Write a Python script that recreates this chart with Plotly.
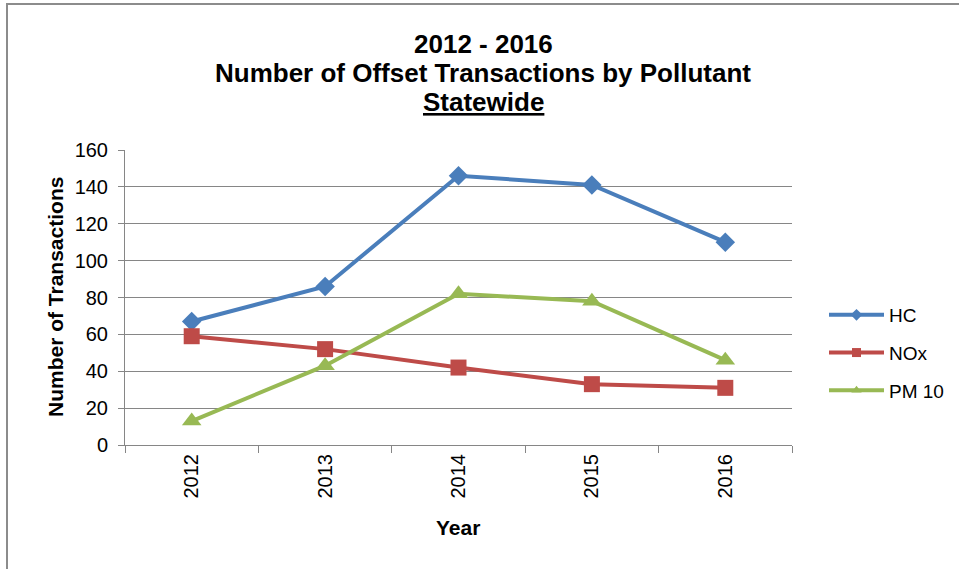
import plotly.graph_objects as go

years = ["2012", "2013", "2014", "2015", "2016"]
hc = [67, 86, 146, 141, 110]
nox = [59, 52, 42, 33, 31]
pm10 = [13, 43, 82, 78, 46]

title_lines = ["2012 - 2016", "Number of Offset Transactions by Pollutant", "<u>Statewide</u>"]

series = [
    ("HC", hc, "#4A7EBB", "diamond", 15, 9),
    ("NOx", nox, "#BE4B48", "square", 16, 9),
    ("PM 10", pm10, "#98B954", "triangle-up", 17, 9),
]

W, H = 959, 569
L, R, T, B = 125, 792, 150, 445


def px_x(px):
    return (px - L) / (R - L)


def px_y(py):
    return (B - py) / (B - T)


fig = go.Figure()
for i, (name, vals, color, sym, sz, lsz) in enumerate(series):
    fig.add_trace(go.Scatter(
        x=years, y=vals, name=name, mode="lines+markers",
        line=dict(color=color, width=4),
        marker=dict(symbol=sym, size=sz, color=color),
        showlegend=False,
    ))
    # legend entry with the small marker used in the reference legend
    fig.add_trace(go.Scatter(
        x=[None], y=[None], name=name, mode="lines+markers",
        line=dict(color=color, width=4),
        marker=dict(symbol=sym, size=lsz, color=color),
        legendgroup=f"g{i}", showlegend=True,
    ))

font = "Liberation Sans, Arial, sans-serif"
fig.update_layout(
    width=W, height=H,
    margin=dict(l=L, r=W - R, t=T, b=H - B, autoexpand=False),
    paper_bgcolor="white", plot_bgcolor="white",
    font=dict(family=font, color="#000000", size=19),
    xaxis=dict(
        type="category", range=[-0.5, len(years) - 0.5],
        tickson="boundaries", ticks="outside", ticklen=7,
        tickcolor="#868686", showline=True, linecolor="#868686", linewidth=1,
        showgrid=False, tickangle=-90, tickfont=dict(size=20),
        automargin=False,
    ),
    yaxis=dict(
        range=[0, 160], dtick=20, ticks="outside", ticklen=6, tickcolor="#868686",
        showline=True, linecolor="#868686", linewidth=1,
        showgrid=True, gridcolor="#868686", gridwidth=1,
        tickfont=dict(size=20), zeroline=False, automargin=False,
        ticklabelstandoff=6,
    ),
    legend=dict(
        x=px_x(824), xanchor="left", y=px_y(353), yanchor="middle",
        yref="paper", font=dict(size=19), traceorder="grouped",
        tracegroupgap=10, itemwidth=55, bgcolor="rgba(0,0,0,0)",
    ),
    showlegend=True,
)

# chart title (three centred lines)
for text, cy in zip(title_lines, [44, 73, 102]):
    fig.add_annotation(
        text=f"<b>{text}</b>", xref="paper", yref="paper",
        x=px_x(483), y=px_y(cy), xanchor="center", yanchor="middle",
        showarrow=False, font=dict(size=26, family=font, color="#000000"),
    )

fig.add_annotation(
    text="<b>Number of Transactions</b>", textangle=-90,
    xref="paper", yref="paper", x=px_x(55), y=px_y(297),
    xanchor="center", yanchor="middle", showarrow=False,
    font=dict(size=21, family=font, color="#000000"),
)
fig.add_annotation(
    text="<b>Year</b>",
    xref="paper", yref="paper", x=px_x(458), y=px_y(527),
    xanchor="center", yanchor="middle", showarrow=False,
    font=dict(size=21, family=font, color="#000000"),
)

# outer chart border (top and left visible)
fig.add_shape(
    type="rect", xref="paper", yref="paper",
    x0=px_x(7), x1=px_x(990), y0=px_y(600), y1=px_y(4),
    line=dict(color="#8C8C8C", width=2), fillcolor="rgba(0,0,0,0)", layer="below",
)

fig.write_html(
    "out.html",
    config={"displayModeBar": False},
    post_script="document.body.style.margin='0';document.body.style.overflow='hidden';",
)
